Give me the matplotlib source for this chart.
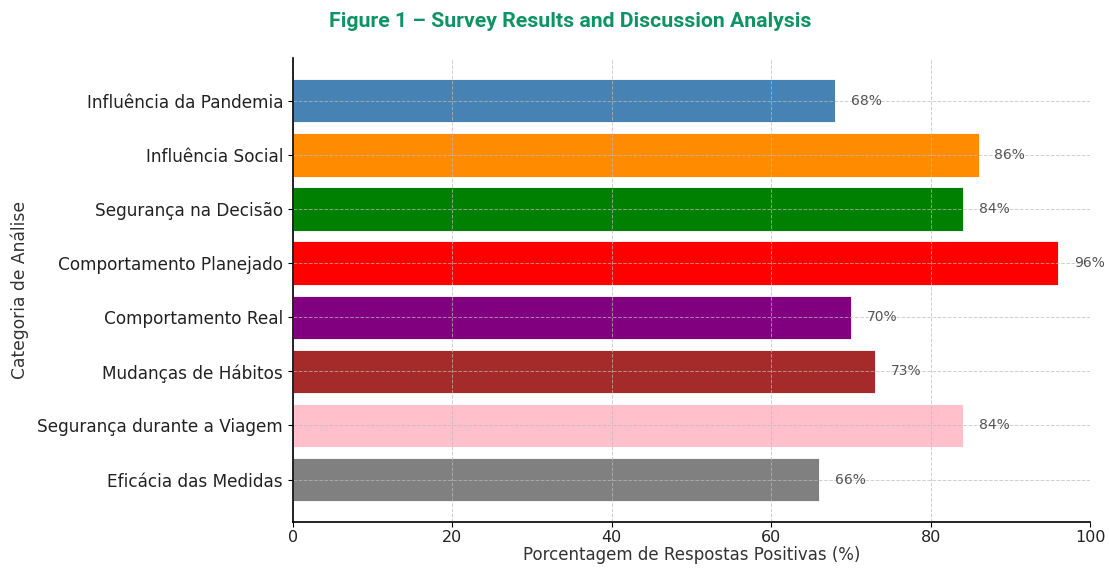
import matplotlib
matplotlib.use("Agg")
import matplotlib.pyplot as plt

categories = ["Influência da Pandemia", "Influência Social", "Segurança na Decisão",
              "Comportamento Planejado", "Comportamento Real", "Mudanças de Hábitos",
              "Segurança durante a Viagem", "Eficácia das Medidas"]
values = [68, 86, 84, 96, 70, 73, 84, 66]
colors = ["steelblue", "darkorange", "green", "red", "purple", "brown", "pink", "gray"]
xticks = [0, 20, 40, 60, 80, 100]

fig = plt.figure(figsize=(11.09, 5.69), dpi=100)
ax = fig.add_axes([0.264, 0.082, 0.719, 0.816])

ypos = list(range(len(categories)))[::-1]
ax.barh(ypos, values, height=0.8, color=colors, edgecolor="white", linewidth=0.6, zorder=1)
for y, v in zip(ypos, values):
    ax.text(v + 2, y, f"{v}%", va="center", ha="left", fontsize=10, color="#555555", zorder=3)

ax.set_yticks(ypos)
ax.set_yticklabels(categories, fontsize=12.2, color="#222222")
ax.set_xlim(0, 100)
ax.set_xticks(xticks)
ax.set_xticklabels([str(t) for t in xticks], fontsize=11.5, color="#222222")
ax.tick_params(axis="x", pad=2)
ax.set_xlabel("Porcentagem de Respostas Positivas (%)", fontsize=12, color="#333333", labelpad=1)
ax.set_ylabel("Categoria de Análise", fontsize=12.3, color="#333333", labelpad=6)
ax.grid(True, linestyle="--", color="#bbbbbb", linewidth=0.7, alpha=0.7, zorder=2)
ax.set_axisbelow(False)
ax.spines["top"].set_visible(False)
ax.spines["right"].set_visible(False)
for s in ("left", "bottom"):
    ax.spines[s].set_linewidth(1.2)
    ax.spines[s].set_zorder(5)
ax.tick_params(axis="both", length=3.5)

fig.text(0.514, 0.962, "Figure 1 – Survey Results and Discussion Analysis", ha="center", va="center",
         fontsize=15.3, fontweight="bold", color="#0e9364", family="Roboto")

fig.savefig("out.png", dpi=100)
